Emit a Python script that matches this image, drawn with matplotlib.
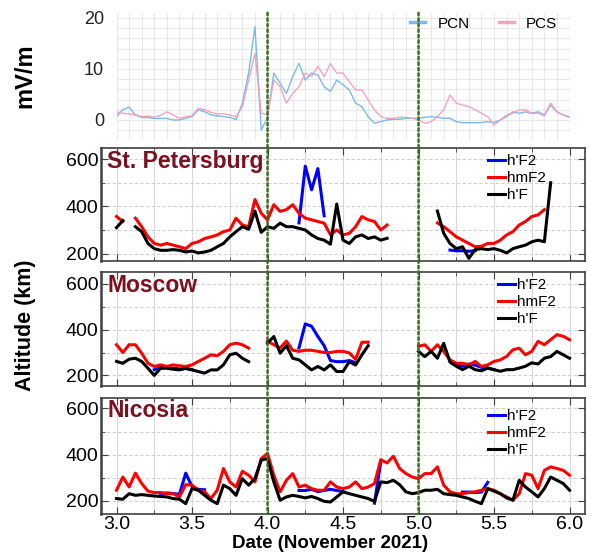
import numpy as np
import matplotlib
matplotlib.use('Agg')
import matplotlib.pyplot as plt
from matplotlib.patches import ConnectionPatch

plt.rcParams['font.family'] = ['Liberation Sans', 'DejaVu Sans']

N = np.nan
# hourly samples, 3 Nov 00 UT .. 6 Nov 00 UT
days = 3 + np.arange(73) / 24

# polar cap indices (mV/m)
pcn = [0.65, 2.0, 2.5, 1.0, 0.5, 0.5, 0.3, 0.3, 0.3, 0.0, 0.0, 0.3,
       0.65, 2.0, 1.6, 1.0, 0.8, 0.65, 0.5, 0.1, 3.3, 9.2, 18.3, -2.0,
       0.5, 9.2, 7.2, 5.2, 8.5, 11.1, 7.8, 9.2, 8.8, 6.5, 5.6, 7.8,
       6.9, 5.9, 3.3, 2.6, 0.65, -0.65, -0.3, 0.0, 0.13, 0.13, 0.33, 0.33,
       0.33, 0.52, 0.65, 0.52, 0.33, 0.33, -0.33, -0.52, -0.52, -0.52, -0.52, -0.33,
       -0.52, 0.0, 0.65, 1.6, 1.3, 1.6, 1.3, 1.6, 0.98, 2.9, 1.6, 0.98,
       0.65]
pcs = [1.6, 1.3, 1.2, 1.0, 0.65, 0.78, 0.52, 0.9, 1.6, 1.0, 0.33, 0.65,
       0.78, 2.3, 2.0, 1.5, 1.2, 1.2, 1.0, 0.65, 2.6, 7.8, 13.1, 1.3,
       1.0, 7.8, 6.5, 3.3, 5.2, 6.5, 9.2, 8.5, 10.5, 8.5, 11.1, 9.2,
       9.2, 7.5, 5.9, 5.9, 3.9, 2.0, 0.65, 0.33, 0.33, 0.52, 0.52, 0.33,
       0.0, -0.65, -0.33, 0.65, 2.0, 4.9, 3.3, 2.9, 2.6, 2.0, 1.3, 0.65,
       -1.0, 0.0, 1.0, 1.3, 2.0, 2.0, 1.3, 1.3, 0.78, 3.3, 1.6, 0.98,
       0.5]

# St. Petersburg (km)
stp_hf2 = [N] * 29 + [330, 570, 470, 560, 360] + [N] * 19 + \
          [215, 212, 212, 210, 212] + [N] * 15
stp_hmf2 = [357, 336, N, 350, 314, 271, 243, 236, 243, 236, 229, 221,
            243, 250, 264, 271, 279, 293, 300, 350, 321, 314, 429, 371,
            343, 407, 379, 386, 407, 371, 350, 343, 336, 329, 280, 300,
            279, 286, 314, 357, 343, 336, 300, 321, N, N, N, N,
            N, N, N, 330, 314, 293, 271, 257, 243, 229, 231, 243,
            243, 257, 279, 293, 321, 336, 357, 364, 386, N, N, N,
            N]
stp_hf = [310, 340, N, 314, 293, 243, 221, 214, 214, 217, 214, 207,
          211, 203, 207, 214, 229, 243, 271, 293, 314, 303, 380, 290,
          314, 307, 329, 314, 314, 307, 300, 279, 264, 257, 240, 410,
          257, 243, 271, 279, 264, 271, 257, 265, N, N, N, N,
          N, N, N, 380, 286, 243, 221, 229, 180, 217, 221, 217,
          221, 214, 203, 221, 229, 236, 250, 257, 250, 500, N, N,
          N]

# Moscow (km)
msk_hf2 = [N] * 6 + [225, 235, 235, 232, 228, 230, 225] + [N] * 16 + \
          [320, 425, 415, 370, 330, 265, 260, 260, 265, 255] + [N] * 15 + \
          [245, 240, 250, 245, 235, 232, 225] + [N] * 12
msk_hmf2 = [334, 300, 334, 334, 297, 253, 239, 246, 239, 246, 242, 239,
            246, 261, 275, 290, 286, 305, 334, 341, 334, 319, N, N,
            349, 334, 320, 350, 310, 305, 310, 310, 305, 300, 300, 305,
            305, 298, 270, 345, 345, N, N, N, N, N, N, N,
            327, 334, 305, 334, 305, 268, 253, 253, 246, 261, 239, 246,
            261, 268, 283, 312, 319, 290, 305, 349, 334, 356, 378, 371,
            356]
msk_hf = [261, 253, 271, 275, 261, 231, 200, 231, 231, 227, 224, 231,
          224, 217, 210, 224, 224, 246, 290, 297, 275, 260, N, N,
          341, 370, 297, 330, 275, 268, 246, 224, 239, 224, 246, 217,
          217, 260, 245, 290, 330, N, N, N, N, N, N, N,
          305, 282, 305, 275, 340, 258, 240, 225, 240, 225, 220, 232,
          225, 218, 225, 225, 232, 240, 255, 250, 275, 282, 305, 290,
          275]

# Nicosia (km)
nic_hf2 = [N] * 7 + [232, 234, 232, 228, 320, 262, 250, 248] + [N] * 14 + \
          [245, 245, 250, 240, 245, 250, 245, 240] + [N] * 4 + [190, 370] + \
          [N] * 12 + [238, 238, 236, 238, 280] + [N] * 13
nic_hmf2 = [246, 303, 260, 320, 275, 242, 236, 236, 231, 231, 217, 270,
            268, 246, 239, 210, 246, 340, 282, 260, 328, 311, 282, 383,
            405, 311, 239, 289, 318, 260, 268, 253, 246, 246, 282, 260,
            253, 260, 282, 253, 260, 275, 378, 364, 393, 340, 318, 303,
            296, 318, 318, 347, 268, 239, 231, 231, 236, 239, 246, 253,
            246, 231, 217, 203, 231, 318, 311, 253, 332, 347, 340, 332,
            311]
nic_hf = [210, 207, 231, 224, 227, 224, 221, 219, 217, 210, 207, 188,
          253, 246, 224, 203, 188, 268, 253, 224, 296, 268, 296, 376,
          383, 282, 203, 217, 224, 219, 213, 219, 210, 198, 195, 217,
          239, 231, 224, 217, 210, 198, 282, 279, 289, 270, 239, 231,
          236, 246, 246, 250, 231, 227, 224, 217, 210, 198, 188, 253,
          242, 231, 213, 203, 289, 260, 239, 217, 253, 303, 289, 275,
          246]

markers_days = [4.0, 5.0]

fig = plt.figure(figsize=(5.9, 5.52), dpi=100)
ax0 = fig.add_axes([0.1975, 0.7457, 0.7678, 0.231])
ax1 = fig.add_axes([0.1719, 0.5277, 0.819, 0.2033])
ax2 = fig.add_axes([0.1719, 0.3013, 0.819, 0.2051])
ax3 = fig.add_axes([0.1719, 0.0696, 0.819, 0.2094])

# --- top panel: PCN / PCS
ax0.plot(days, pcn, color='#6fb2e6', lw=1.0, alpha=0.9, label='PCN')
ax0.plot(days, pcs, color='#f29cb8', lw=1.0, alpha=0.9, label='PCS')
ax0.set_xlim(3, 6)
ax0.set_ylim(-4, 21)
ax0.set_xticks(np.arange(3, 6.001, 1 / 12))
ax0.set_yticks([0, 10, 20])
ax0.set_yticks(np.arange(-4, 21, 2), minor=True)
ax0.grid(which='both', color='#e8e8e8', lw=0.8)
ax0.set_axisbelow(True)
for s in ax0.spines.values():
    s.set_visible(False)
ax0.tick_params(which='both', length=0, labelbottom=False, labelsize=13, pad=9,
                labelcolor='#222222')
leg0 = ax0.legend(loc='upper right', ncol=2, frameon=False, fontsize=11,
                  handlelength=1.0, handletextpad=0.8, columnspacing=1.9,
                  borderaxespad=0.1, bbox_to_anchor=(0.99, 1.03))
for h in leg0.legend_handles:
    h.set_linewidth(2.5)

# --- ionosonde panels
panels = [
    (ax1, 'St. Petersburg', stp_hf2, stp_hmf2, stp_hf, (170, 645), (0.775, 1.06)),
    (ax2, 'Moscow', msk_hf2, msk_hmf2, msk_hf, (155, 650), (0.795, 1.06)),
    (ax3, 'Nicosia', nic_hf2, nic_hmf2, nic_hf, (145, 645), (0.775, 1.01)),
]
for ax, name, hf2, hmf2, hf, ylim, anchor in panels:
    ax.plot(days, hf2, color='#0000ff', lw=2.2, label="h'F2")
    ax.plot(days, hmf2, color='#ff0000', lw=2.2, label='hmF2')
    ax.plot(days, hf, color='black', lw=2.2, label="h'F")
    ax.set_xlim(2.9, 6.1)
    ax.set_ylim(*ylim)
    ax.set_xticks(np.arange(3, 6.01, 0.5))
    ax.set_xticks(np.arange(3, 6.01, 0.25), minor=True)
    ax.set_yticks([200, 400, 600])
    ax.set_yticks(np.arange(200, 601, 100), minor=True)
    ax.grid(which='both', axis='x', color='#d9d9d9', lw=0.8)
    ax.grid(which='both', axis='y', color='#cfcfcf', lw=0.8, ls=(0, (3, 2)))
    ax.set_axisbelow(True)
    ax.tick_params(which='both', direction='in', top=True, right=True,
                   labelsize=14, pad=2, color='#404040')
    ax.tick_params(which='major', length=5)
    ax.tick_params(which='minor', length=3)
    for s in ax.spines.values():
        s.set_color('#404040')
        s.set_linewidth(1.2)
    ax.spines['left'].set_linewidth(1.8)
    ax.text(0.012, 0.99, name, transform=ax.transAxes, ha='left', va='top',
            fontsize=16.5, fontweight='bold', color='#7b1020')
    ax.legend(loc='upper left', bbox_to_anchor=anchor, frameon=False,
              fontsize=11, handlelength=1.1, handletextpad=0.15,
              labelspacing=0.2, borderpad=0.3)
    if ax is not ax3:
        ax.tick_params(labelbottom=False)

# storm markers spanning all panels
for d in markers_days:
    con = ConnectionPatch(xyA=(d, ax0.get_ylim()[1]), coordsA=ax0.transData,
                          xyB=(d, ax3.get_ylim()[0]), coordsB=ax3.transData,
                          color='#3d6b1f', lw=1.8, ls=(0, (1, 1.2)), zorder=5)
    fig.add_artist(con)

fig.text(25 / 590, 1 - 76 / 552, 'mV/m', rotation=90, ha='center', va='center',
         fontsize=17, fontweight='bold')
fig.text(25 / 590, 1 - 325 / 552, 'Altitude (km)', rotation=90, ha='center',
         va='center', fontsize=15.5, fontweight='bold')
fig.text(330 / 590, 1 - 544 / 552, 'Date (November 2021)', ha='center',
         va='center', fontsize=13.5, fontweight='bold')

fig.savefig('out.png', dpi=100)
